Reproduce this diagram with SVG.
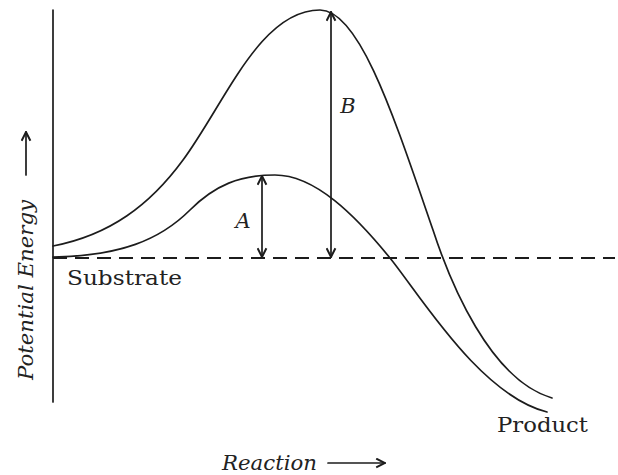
<svg xmlns="http://www.w3.org/2000/svg" width="618" height="475" viewBox="0 0 618 475">
<style>
.ln{fill:none;stroke:#1c1c1c;stroke-width:1.7;stroke-linecap:round}
.dash{fill:none;stroke:#1c1c1c;stroke-width:1.8;stroke-dasharray:14 8}
.lbl{font-family:"DejaVu Serif","Liberation Serif",serif;font-size:20px;fill:#222222}
.it{font-family:"DejaVu Serif","Liberation Serif",serif;font-style:italic;font-size:21px;fill:#222222}
</style>
<defs>
<marker id="ah" viewBox="0 0 10 10" refX="9" refY="5" markerWidth="11" markerHeight="11" markerUnits="userSpaceOnUse" orient="auto-start-reverse">
<path d="M1,1 L9,5 L1,9" fill="none" stroke="#1c1c1c" stroke-width="1.8"/>
</marker>
</defs>
<rect width="618" height="475" fill="#ffffff"/>
<g id="axes">
<line class="ln" x1="53" y1="10" x2="53" y2="402"/>
</g>
<g id="substrate-level">
<line class="dash" x1="53" y1="258" x2="615" y2="258"/>
</g>
<g id="curve-uncatalysed">
<path class="ln" d="M53,246 C110,235 150,205 183,160 C225,103 260,10 320,10 C360,10 395,120 433,230 C450,282 490,380 552,398"/>
</g>
<g id="curve-catalysed">
<path class="ln" d="M53,257 C120,256 160,240 190,210 C215,185 240,175 275,175 C315,175 355,215 390,258 C420,295 480,395 547,412"/>
</g>
<g id="connectors">
<line class="ln" x1="262" y1="257" x2="262" y2="176" marker-start="url(#ah)" marker-end="url(#ah)"/>
<line class="ln" x1="331" y1="257" x2="331" y2="12" marker-start="url(#ah)" marker-end="url(#ah)"/>
<line class="ln" x1="26" y1="175" x2="26" y2="132" marker-end="url(#ah)"/>
<line class="ln" x1="328" y1="463" x2="385" y2="463" marker-end="url(#ah)"/>
</g>
<g id="labels">
<text class="it" x="243" y="228" text-anchor="middle">A</text>
<text class="it" x="348" y="113" text-anchor="middle">B</text>
<text class="lbl" x="67" y="285" textLength="115" lengthAdjust="spacingAndGlyphs">Substrate</text>
<text class="lbl" x="497" y="432" textLength="91" lengthAdjust="spacingAndGlyphs">Product</text>
<text class="it" x="222" y="470" font-size="22" textLength="95" lengthAdjust="spacingAndGlyphs">Reaction</text>
<text class="it" transform="translate(33,380) rotate(-90)" font-size="22" textLength="180" lengthAdjust="spacingAndGlyphs">Potential Energy</text>
</g>
</svg>
